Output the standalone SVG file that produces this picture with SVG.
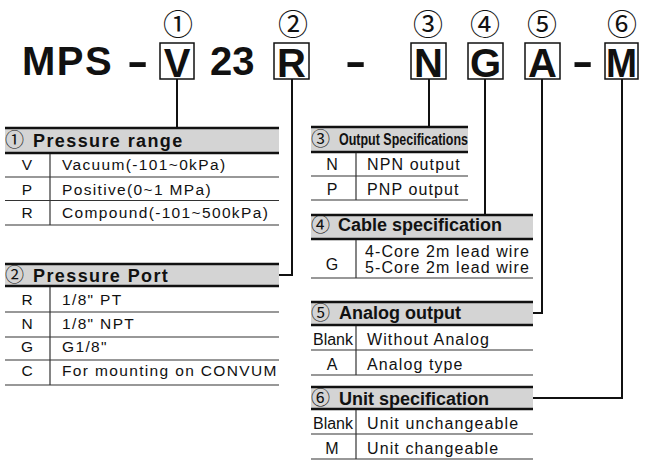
<svg xmlns="http://www.w3.org/2000/svg" width="645" height="465" viewBox="0 0 645 465">
<style>
.big{font-family:"Liberation Sans","Noto Sans CJK JP",sans-serif;font-weight:bold;font-size:40px;fill:#111}
.circ{font-family:"Noto Sans CJK JP",sans-serif;font-size:30px;fill:#111;text-anchor:middle}
.box{fill:#fff;stroke:#111;stroke-width:1.5}
.hdr{fill:#d4d4d4}
.hl{stroke:#111;stroke-width:2.5}
.sep{stroke:#333;stroke-width:1.2}
.conn{stroke:#111;stroke-width:2;fill:none}
.ht{font-family:"Liberation Sans","Noto Sans CJK JP",sans-serif;font-weight:bold;font-size:18px;fill:#111}
.hc{font-family:"Noto Sans CJK JP",sans-serif;font-weight:normal;font-size:19px;letter-spacing:0}
.k{font-family:"Liberation Sans",sans-serif;font-size:15.5px;fill:#111;text-anchor:middle}
.d{font-family:"Liberation Sans",sans-serif;font-size:15.5px;fill:#111;letter-spacing:1.35px}
.kr{font-family:"Liberation Sans",sans-serif;font-size:16px;fill:#111;text-anchor:middle}
.dr{font-family:"Liberation Sans",sans-serif;font-size:16px;fill:#111;letter-spacing:1.1px}
</style>
<rect width="645" height="465" fill="#fff"/>

<g id="model">
<text class="big" x="22" y="75" letter-spacing="1.5">MPS</text>
<text class="big" x="0" y="0" transform="translate(127,75) scale(1.6,1)">-</text>
<text class="big" x="210" y="75">23</text>
<text class="big" x="0" y="0" transform="translate(345,75) scale(1.6,1)">-</text>
<text class="big" x="0" y="0" transform="translate(572,75) scale(1.6,1)">-</text>
</g>

<g id="n1">
<text class="circ" x="178" y="35">①</text>
<rect class="box" x="160" y="43" width="34" height="36"/>
<text class="big" x="177" y="77" text-anchor="middle">V</text>
</g>
<g id="n2">
<text class="circ" x="293" y="35">②</text>
<rect class="box" x="274" y="43" width="35" height="36"/>
<text class="big" x="291.5" y="77" text-anchor="middle">R</text>
</g>
<g id="n3">
<text class="circ" x="428" y="35">③</text>
<rect class="box" x="411" y="43" width="35" height="36"/>
<text class="big" x="428.5" y="77" text-anchor="middle">N</text>
</g>
<g id="n4">
<text class="circ" x="485" y="35">④</text>
<rect class="box" x="468" y="43" width="35" height="36"/>
<text class="big" x="485.5" y="77" text-anchor="middle">G</text>
</g>
<g id="n5">
<text class="circ" x="542" y="35">⑤</text>
<rect class="box" x="525" y="43" width="35" height="36"/>
<text class="big" x="542.5" y="77" text-anchor="middle">A</text>
</g>
<g id="n6">
<text class="circ" x="622" y="35">⑥</text>
<rect class="box" x="605" y="43" width="33" height="36"/>
<text class="big" x="621.5" y="77" text-anchor="middle" textLength="31" lengthAdjust="spacingAndGlyphs">M</text>
</g>

<g id="connectors">
<path class="conn" d="M177,79 V127"/>
<path class="conn" d="M292,79 V275 H279"/>
<path class="conn" d="M429,79 V127"/>
<path class="conn" d="M485,79 V215"/>
<path class="conn" d="M542,79 V313 H533"/>
<path class="conn" d="M622,79 V398 H533"/>
</g>

<g id="t1">
<rect class="hdr" x="5" y="128" width="274" height="25"/>
<line class="hl" x1="5" y1="128" x2="279" y2="128"/>
<line class="hl" x1="5" y1="153" x2="279" y2="153"/>
<text class="ht" y="147" letter-spacing="1.4"><tspan class="hc" x="5">①</tspan><tspan x="33">Pressure range</tspan></text>
<line class="sep" x1="5" y1="177" x2="279" y2="177"/>
<line class="sep" x1="5" y1="200.5" x2="279" y2="200.5"/>
<line class="sep" x1="5" y1="225" x2="279" y2="225"/>
<line class="sep" x1="50" y1="154" x2="50" y2="225"/>
<text class="k" x="27" y="170">V</text>
<text class="d" x="62" y="170">Vacuum(-101~0kPa)</text>
<text class="k" x="27" y="195">P</text>
<text class="d" x="62" y="195">Positive(0~1 MPa)</text>
<text class="k" x="27" y="218">R</text>
<text class="d" x="62" y="218">Compound(-101~500kPa)</text>
</g>

<g id="t2">
<rect class="hdr" x="5" y="264" width="274" height="22"/>
<line class="hl" x1="5" y1="264" x2="279" y2="264"/>
<line class="hl" x1="5" y1="286" x2="279" y2="286"/>
<text class="ht" y="282" letter-spacing="1.4"><tspan class="hc" x="5">②</tspan><tspan x="33">Pressure Port</tspan></text>
<line class="sep" x1="5" y1="312" x2="279" y2="312"/>
<line class="sep" x1="5" y1="337" x2="279" y2="337"/>
<line class="sep" x1="5" y1="360" x2="279" y2="360"/>
<line class="sep" x1="5" y1="385" x2="279" y2="385"/>
<line class="sep" x1="50" y1="287" x2="50" y2="385"/>
<text class="k" x="27" y="305">R</text>
<text class="d" x="62" y="305">1/8" PT</text>
<text class="k" x="27" y="329">N</text>
<text class="d" x="62" y="329">1/8" NPT</text>
<text class="k" x="27" y="352">G</text>
<text class="d" x="62" y="352">G1/8"</text>
<text class="k" x="27" y="376">C</text>
<text class="d" x="62" y="376">For mounting on CONVUM</text>
</g>

<g id="t3">
<rect class="hdr" x="311" y="127" width="157" height="25"/>
<line class="hl" x1="311" y1="127" x2="468" y2="127"/>
<line class="hl" x1="311" y1="152" x2="468" y2="152"/>
<text class="ht" y="146"><tspan class="hc" x="311">③</tspan><tspan x="339" y="145" font-size="17" textLength="129" lengthAdjust="spacingAndGlyphs">Output Specifications</tspan></text>
<line class="sep" x1="311" y1="176" x2="468" y2="176"/>
<line class="sep" x1="311" y1="200" x2="468" y2="200"/>
<line class="sep" x1="356" y1="153" x2="356" y2="200"/>
<text class="kr" x="332" y="170">N</text>
<text class="dr" x="367" y="170">NPN output</text>
<text class="kr" x="332" y="195">P</text>
<text class="dr" x="367" y="195">PNP output</text>
</g>

<g id="t4">
<rect class="hdr" x="311" y="215" width="222" height="24"/>
<line class="hl" x1="311" y1="215" x2="533" y2="215"/>
<line class="hl" x1="311" y1="239" x2="533" y2="239"/>
<text class="ht" y="232" font-size="19"><tspan class="hc" x="311">④</tspan><tspan x="338" y="231">Cable specification</tspan></text>
<line class="sep" x1="311" y1="278" x2="533" y2="278"/>
<line class="sep" x1="356" y1="240" x2="356" y2="278"/>
<text class="kr" x="332" y="270">G</text>
<text class="dr" x="365" y="257">4-Core 2m lead wire</text>
<text class="dr" x="365" y="273">5-Core 2m lead wire</text>
</g>

<g id="t5">
<rect class="hdr" x="311" y="302" width="222" height="23"/>
<line class="hl" x1="311" y1="302" x2="533" y2="302"/>
<line class="hl" x1="311" y1="325" x2="533" y2="325"/>
<text class="ht" y="320" font-size="19"><tspan class="hc" x="311">⑤</tspan><tspan x="339" y="319">Analog output</tspan></text>
<line class="sep" x1="311" y1="350" x2="533" y2="350"/>
<line class="sep" x1="311" y1="375" x2="533" y2="375"/>
<line class="sep" x1="356" y1="326" x2="356" y2="375"/>
<text class="kr" x="333" y="345">Blank</text>
<text class="dr" x="367" y="345">Without Analog</text>
<text class="kr" x="332" y="370">A</text>
<text class="dr" x="367" y="370">Analog type</text>
</g>

<g id="t6">
<rect class="hdr" x="311" y="387" width="222" height="22"/>
<line class="hl" x1="311" y1="387" x2="533" y2="387"/>
<line class="hl" x1="311" y1="409" x2="533" y2="409"/>
<text class="ht" y="405" font-size="19"><tspan class="hc" x="311">⑥</tspan><tspan x="339">Unit specification</tspan></text>
<line class="sep" x1="311" y1="434" x2="533" y2="434"/>
<line class="sep" x1="311" y1="459" x2="533" y2="459"/>
<line class="sep" x1="356" y1="410" x2="356" y2="459"/>
<text class="kr" x="333" y="429">Blank</text>
<text class="dr" x="367" y="429">Unit unchangeable</text>
<text class="kr" x="332" y="454">M</text>
<text class="dr" x="367" y="454">Unit changeable</text>
</g>
</svg>
